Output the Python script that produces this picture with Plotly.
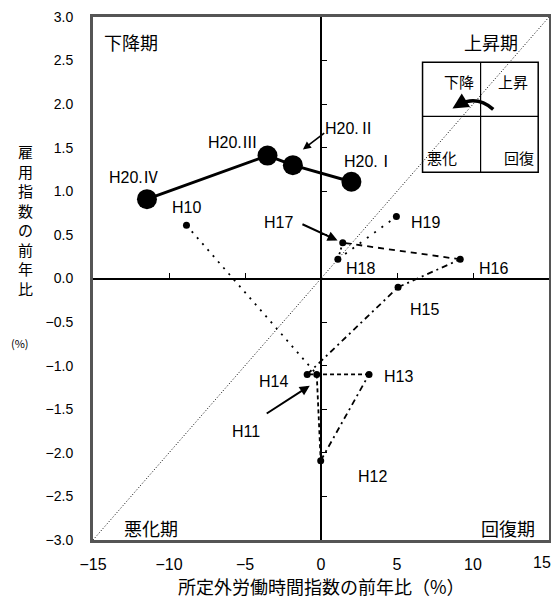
import plotly.graph_objects as go

# ---- data ----
annual_labels = ["H10", "H11", "H12", "H13", "H14", "H15", "H16", "H17", "H18", "H19"]
annual_x = [-8.85, -0.28, -0.02, 3.16, -0.91, 5.07, 9.16, 1.43, 1.11, 4.96]
annual_y = [0.61, -1.10, -2.09, -1.10, -1.10, -0.10, 0.22, 0.41, 0.22, 0.71]

quarter_labels = ["H20.Ⅰ", "H20.Ⅱ", "H20.Ⅲ", "H20.Ⅳ"]
quarter_x = [2.0, -1.85, -3.52, -11.45]
quarter_y = [1.11, 1.30, 1.41, 0.91]

x_ticks = [-15, -10, -5, 0, 5, 10, 15]
x_tick_labels = ["−15", "−10", "−5", "0", "5", "10", "15"]
y_ticks = [-3.0, -2.5, -2.0, -1.5, -1.0, -0.5, 0.0, 0.5, 1.0, 1.5, 2.0, 2.5, 3.0]
diag_x = [-15, 15]
diag_y = [-3, 3]

# ---- styles ----
seg_dash = ["2px,6px", "4px,3px", "6px,4px,2px,4px", "4px,3px", "6px,4px,2px,4px",
            "6px,4px,2px,4px", "6px,5px", "2px,3px", "2px,7px"]

annual_label_pos = {
    "H10": (-8.83, 0.81), "H19": (6.9, 0.64), "H18": (2.59, 0.11), "H16": (11.35, 0.11),
    "H15": (6.83, -0.36), "H13": (5.13, -1.12), "H14": (-3.15, -1.18), "H12": (3.37, -2.27),
}
quarter_label_pos = {"H20.Ⅰ": (3.18, 1.34), "H20.Ⅲ": (-5.76, 1.56), "H20.Ⅳ": (-12.3, 1.16)}

FONT = "Liberation Sans, Arial, Noto Sans CJK JP"
JP = "Noto Sans CJK JP, Liberation Sans"
LBL = 16

fig = go.Figure()

fig.add_trace(go.Scatter(x=diag_x, y=diag_y, mode="lines",
                         line=dict(color="black", width=1, dash="1px,2px"),
                         hoverinfo="skip", showlegend=False))

for i in range(len(annual_x) - 1):
    fig.add_trace(go.Scatter(x=annual_x[i:i + 2], y=annual_y[i:i + 2], mode="lines",
                             line=dict(color="black", width=1.8, dash=seg_dash[i]),
                             showlegend=False, hoverinfo="skip"))

fig.add_trace(go.Scatter(x=annual_x, y=annual_y, mode="markers", text=annual_labels,
                         marker=dict(color="black", size=7), showlegend=False))

fig.add_trace(go.Scatter(x=quarter_x, y=quarter_y, mode="lines+markers", text=quarter_labels,
                         line=dict(color="black", width=3),
                         marker=dict(color="black", size=20), showlegend=False))

fig.add_trace(go.Scatter(x=[0], y=[0], xaxis="x2", yaxis="y2", mode="markers",
                         marker=dict(opacity=0), showlegend=False, hoverinfo="skip"))

ann = []
for lab in annual_labels:
    if lab in annual_label_pos:
        px, py = annual_label_pos[lab]
        ann.append(dict(x=px, y=py, text=lab, showarrow=False, font=dict(size=LBL, family=FONT)))
for lab in quarter_labels:
    if lab in quarter_label_pos:
        px, py = quarter_label_pos[lab]
        ann.append(dict(x=px, y=py, text=lab, showarrow=False, font=dict(size=LBL, family=FONT)))

ann.append(dict(x=1.94, y=1.72, text="H20.Ⅱ", showarrow=False, font=dict(size=LBL, family=FONT)))
ann.append(dict(x=-1.19, y=1.48, ax=0.31, ay=1.68, axref="x", ayref="y", text="",
                showarrow=True, arrowhead=2, arrowsize=1, arrowwidth=1.6, arrowcolor="black"))
ann.append(dict(x=-2.82, y=0.64, text="H17", showarrow=False, font=dict(size=LBL, family=FONT)))
ann.append(dict(x=1.09, y=0.436, ax=-1.32, ay=0.63, axref="x", ayref="y", text="",
                showarrow=True, arrowhead=2, arrowsize=1, arrowwidth=2, arrowcolor="black"))
ann.append(dict(x=-4.91, y=-1.75, text="H11", showarrow=False, font=dict(size=LBL, family=FONT)))
ann.append(dict(x=-0.74, y=-1.23, ax=-3.67, ay=-1.56, axref="x", ayref="y", text="",
                showarrow=True, arrowhead=2, arrowsize=1, arrowwidth=2, arrowcolor="black"))

for txt, qx, qy in [("下降期", -12.47, 2.71), ("上昇期", 11.2, 2.71),
                    ("悪化期", -11.17, -2.86), ("回復期", 12.3, -2.86)]:
    ann.append(dict(x=qx, y=qy, text=txt, showarrow=False, font=dict(size=18, family=JP)))

for txt, qx, qy in [("下降", 9.11, 2.26), ("上昇", 12.63, 2.26),
                    ("悪化", 7.94, 1.39), ("回復", 13.03, 1.39)]:
    ann.append(dict(x=qx, y=qy, text=txt, showarrow=False, font=dict(size=15, family=JP)))

ann.append(dict(x=8.65, y=1.95, ax=9.3, ay=2.02, axref="x", ayref="y", text="",
                showarrow=True, arrowhead=2, arrowsize=0.9, arrowwidth=3.5, arrowcolor="black"))

# last x tick label, right-aligned so it stays inside the page
ann.append(dict(x=x_ticks[-1], y=0, yref="paper", xanchor="right", yanchor="top", xshift=4, yshift=-12,
                text=x_tick_labels[-1], showarrow=False, font=dict(size=16, family=FONT)))

ann.append(dict(xref="paper", yref="paper", x=-0.149, y=0.612, xanchor="center", yanchor="middle",
                text="雇<br>用<br>指<br>数<br>の<br>前<br>年<br>比", showarrow=False,
                font=dict(size=15, family=JP), align="center"))
ann.append(dict(xref="paper", yref="paper", x=-0.160, y=0.377, xanchor="center", yanchor="middle",
                text="(%)", showarrow=False, font=dict(size=11, family=JP)))
ann.append(dict(xref="paper", yref="paper", x=0.5, y=-0.088, xanchor="center", yanchor="middle",
                text="所定外労働時間指数の前年比（%）",
                showarrow=False, font=dict(size=18, family=JP)))

shapes = [
    dict(type="rect", x0=6.68, x1=14.29, y0=1.22, y1=2.48, line=dict(color="black", width=1.5)),
    dict(type="line", x0=10.5, x1=10.5, y0=1.22, y1=2.48, line=dict(color="black", width=1.2)),
    dict(type="line", x0=6.68, x1=14.29, y0=1.86, y1=1.86, line=dict(color="black", width=1.2)),
    dict(type="path", path="M 11.33 1.94 Q 10.3 2.1 9.1 2.0", line=dict(color="black", width=3.5)),
]

fig.update_layout(
    width=543, height=590,
    margin=dict(l=85, r=2, t=9, b=58, autoexpand=False),
    paper_bgcolor="white", plot_bgcolor="white",
    font=dict(family=FONT, color="black"),
    showlegend=False,
    annotations=ann, shapes=shapes,
    xaxis=dict(range=[-15, 15], tickvals=x_ticks[:-1], ticktext=x_tick_labels[:-1],
               showgrid=False, zeroline=False, showline=True, linecolor="#555",
               linewidth=3, mirror=True, ticks="", tickfont=dict(size=16),
               ticklabelstandoff=8, ticklabeloverflow="allow"),
    yaxis=dict(range=[-3, 3], tickvals=y_ticks, tickformat=".1f",
               showgrid=False, zeroline=False, showline=True, linecolor="#555",
               linewidth=3, mirror=True, ticks="", tickfont=dict(size=14),
               ticklabelstandoff=14, ticklabeloverflow="allow"),
    xaxis2=dict(range=[-15, 15], overlaying="x", anchor="free", position=0.5,
                tickvals=x_ticks, showticklabels=False, ticks="inside", ticklen=5,
                tickcolor="black", showline=True, linecolor="black", linewidth=1.6,
                showgrid=False, zeroline=False),
    yaxis2=dict(range=[-3, 3], overlaying="y", anchor="free", position=0.5,
                tickvals=y_ticks, showticklabels=False, ticks="inside", ticklen=5,
                tickcolor="black", showline=True, linecolor="black", linewidth=1.6,
                showgrid=False, zeroline=False),
)

fig.write_html("out.html")
